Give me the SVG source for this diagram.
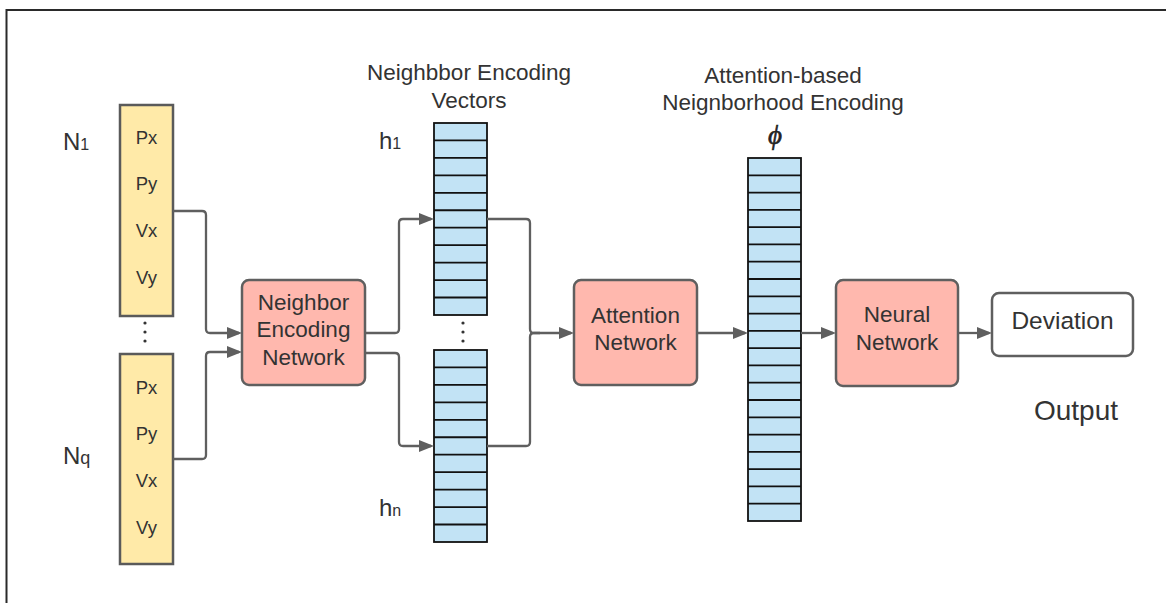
<svg xmlns="http://www.w3.org/2000/svg" width="1166" height="603" viewBox="0 0 1166 603">
  <defs>
    <marker id="arrow" markerUnits="userSpaceOnUse" markerWidth="16" markerHeight="12" refX="12" refY="6" orient="auto">
      <path d="M0,0 L15,6 L0,12 z" fill="#5f5f5f"/>
    </marker>
  </defs>
  <style>
    text { font-family: "Liberation Sans", Arial, sans-serif; fill: #333333; }
    .feat { fill: #ffeaa8; stroke: #5a5a5a; stroke-width: 2.5; }
    .proc { fill: #ffb8ae; stroke: #5f5f5f; stroke-width: 2.5; }
    .out { fill: #ffffff; stroke: #5f5f5f; stroke-width: 2.5; }
    .cell { fill: #c2e3f5; stroke: #111111; stroke-width: 1.8; }
    .wire { fill: none; stroke: #5f5f5f; stroke-width: 2.3; }
    .small { font-size: 18.5px; text-anchor: middle; }
    .lbl { font-size: 22.5px; text-anchor: middle; }
    .dot { fill: #333333; }
  </style>

  <rect width="1166" height="603" fill="#ffffff"/>
  <!-- frame -->
  <path d="M6.5,603 V10 H1166" fill="none" stroke="#2a2a2a" stroke-width="2"/>

  <!-- neighbour state vectors -->
  <g id="n1">
    <rect class="feat" x="120" y="105" width="53" height="211"/>
    <text class="small" x="146.5" y="143.5">Px</text>
    <text class="small" x="146.5" y="190">Py</text>
    <text class="small" x="146.5" y="236.5">Vx</text>
    <text class="small" x="146.5" y="283.5">Vy</text>
    <text x="63" y="149.5" font-size="24">N<tspan font-size="16">1</tspan></text>
  </g>
  <g id="n-dots">
    <circle class="dot" cx="145" cy="323" r="1.6"/>
    <circle class="dot" cx="145" cy="332" r="1.6"/>
    <circle class="dot" cx="145" cy="341" r="1.6"/>
  </g>
  <g id="nq">
    <rect class="feat" x="120" y="354" width="53" height="210"/>
    <text class="small" x="146.5" y="393.5">Px</text>
    <text class="small" x="146.5" y="440">Py</text>
    <text class="small" x="146.5" y="486.5">Vx</text>
    <text class="small" x="146.5" y="533.5">Vy</text>
    <text x="63" y="463.5" font-size="24">N<tspan font-size="18">q</tspan></text>
  </g>

  <!-- processing blocks -->
  <g id="neighbor-encoding-network">
    <rect class="proc" x="242" y="280" width="123" height="105" rx="7"/>
    <text class="lbl" x="303.5" y="309.5">Neighbor</text>
    <text class="lbl" x="303.5" y="337">Encoding</text>
    <text class="lbl" x="303.5" y="365">Network</text>
  </g>

  <g id="h1">
    <text class="lbl" x="469" y="80">Neighbbor Encoding</text>
    <text class="lbl" x="469" y="108">Vectors</text>
    <text x="379" y="149" font-size="24">h<tspan font-size="16">1</tspan></text>
    <rect class="cell" x="434" y="123" width="53" height="192"/>
    <path class="cell" fill="none" d="M434,140.45H487M434,157.9H487M434,175.35H487M434,192.8H487M434,210.25H487M434,227.7H487M434,245.15H487M434,262.6H487M434,280.05H487M434,297.5H487"/>
  </g>
  <g id="h-dots">
    <circle class="dot" cx="463" cy="323" r="1.6"/>
    <circle class="dot" cx="463" cy="332" r="1.6"/>
    <circle class="dot" cx="463" cy="341" r="1.6"/>
  </g>
  <g id="hn">
    <rect class="cell" x="434" y="350" width="53" height="192"/>
    <path class="cell" fill="none" d="M434,367.45H487M434,384.9H487M434,402.35H487M434,419.8H487M434,437.25H487M434,454.7H487M434,472.15H487M434,489.6H487M434,507.05H487M434,524.5H487"/>
    <text x="379" y="516" font-size="24">h<tspan font-size="16">n</tspan></text>
  </g>

  <g id="attention-network">
    <rect class="proc" x="574" y="280" width="123" height="105" rx="7"/>
    <text class="lbl" x="635.5" y="322.5">Attention</text>
    <text class="lbl" x="635.5" y="350">Network</text>
  </g>

  <g id="phi">
    <text class="lbl" x="783" y="83">Attention-based</text>
    <text class="lbl" x="783" y="110">Neignborhood Encoding</text>
    <text x="775" y="144" font-size="27" text-anchor="middle" font-style="italic" stroke="#222222" stroke-width="0.6" style="font-family: 'Liberation Serif', 'DejaVu Serif', serif; fill: #222222;">ϕ</text>
    <rect class="cell" x="748" y="158" width="53" height="363"/>
    <path class="cell" fill="none" d="M748,175.29H801M748,192.57H801M748,209.86H801M748,227.14H801M748,244.43H801M748,261.71H801M748,279H801M748,296.29H801M748,313.57H801M748,330.86H801M748,348.14H801M748,365.43H801M748,382.71H801M748,400H801M748,417.29H801M748,434.57H801M748,451.86H801M748,469.14H801M748,486.43H801M748,503.71H801"/>
  </g>

  <g id="neural-network">
    <rect class="proc" x="836" y="280" width="122" height="106" rx="7"/>
    <text class="lbl" x="897" y="322">Neural</text>
    <text class="lbl" x="897" y="350">Network</text>
  </g>

  <g id="deviation">
    <rect class="out" x="992" y="293" width="141" height="63" rx="7"/>
    <text x="1062.5" y="329" font-size="24.5" text-anchor="middle">Deviation</text>
    <text x="1076" y="420" font-size="28" text-anchor="middle">Output</text>
  </g>

  <!-- connectors -->
  <g id="connectors">
    <path class="wire" d="M173,211 H202 Q206,211 206,215 V329 Q206,333 210,333 H239" marker-end="url(#arrow)"/>
    <path class="wire" d="M173,459 H202 Q206,459 206,455 V356 Q206,352 210,352 H239" marker-end="url(#arrow)"/>
    <path class="wire" d="M365,333 H395 Q399,333 399,329 V223 Q399,219 403,219 H431" marker-end="url(#arrow)"/>
    <path class="wire" d="M365,353 H395 Q399,353 399,357 V442 Q399,446 403,446 H431" marker-end="url(#arrow)"/>
    <path class="wire" d="M487,219 H526 Q530,219 530,223 V329 Q530,333 534,333 H571" marker-end="url(#arrow)"/>
    <path class="wire" d="M487,446 H526 Q530,446 530,442 V337 Q530,333 534,333 H540"/>
    <path class="wire" d="M697,333 H745" marker-end="url(#arrow)"/>
    <path class="wire" d="M801,333 H833" marker-end="url(#arrow)"/>
    <path class="wire" d="M958,333 H989" marker-end="url(#arrow)"/>
  </g>
</svg>
